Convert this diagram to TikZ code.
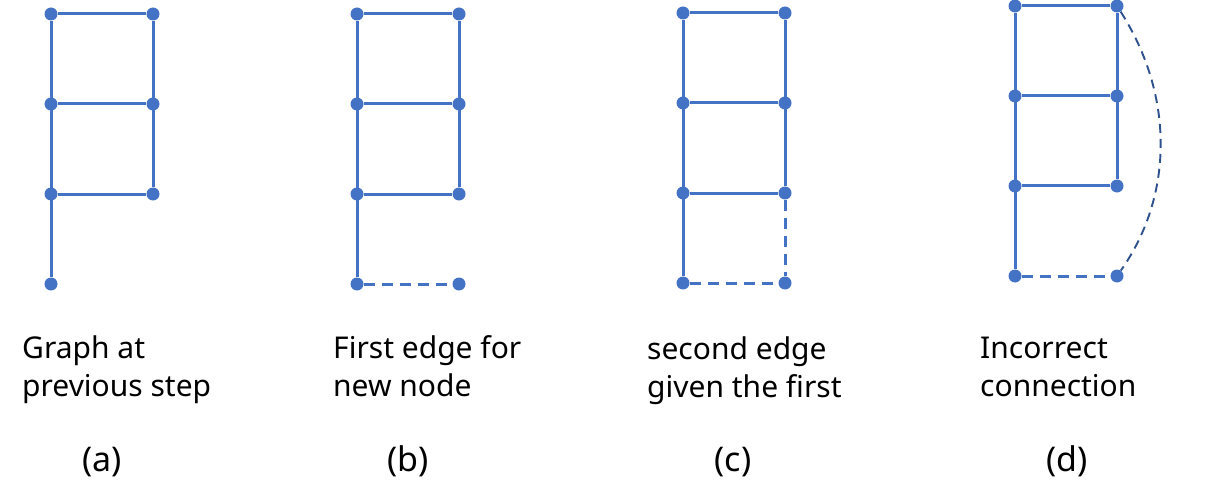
\documentclass[tikz,border=0pt]{standalone}
\usepackage{fontspec}
\setmainfont{Noto Sans}
\definecolor{gblue}{HTML}{4472C4}
\definecolor{dblue}{HTML}{2F528F}
\tikzset{%
    dot/.style={circle, fill=gblue, inner sep=0pt, minimum size=13pt},
    edg/.style={gblue, line width=3pt},
    dedg/.style={gblue, line width=3pt, dash pattern=on 11pt off 7pt},
    wrng/.style={dblue, line width=1.9pt, dash pattern=on 9pt off 6pt},
    txt/.style={anchor=north west, inner sep=0pt, align=left, font=\fontsize{30}{38}\selectfont},
    sub/.style={anchor=base, inner sep=0pt, font=\fontsize{34}{40}\selectfont},
}

\begin{document}
\begin{tikzpicture}[x=1pt, y=-1pt]
    \useasboundingbox (0,0) rectangle (1232,500);
    % ladder of the previous step, one per panel
    \foreach \p/\x/\y in {a/51/14, b/357/14, c/683/13, d/1015/6}{
        \foreach \i in {0,1,2}{
            \node[dot] (\p l\i) at (\x,\y+90*\i) {};
            \node[dot] (\p r\i) at (\x+102,\y+90*\i) {};
        }
        \node[dot] (\p l3) at (\x,\y+270) {};
        \draw[edg] (\p l0) -- (\p l3) (\p r0) -- (\p r2);
        \foreach \i in {0,1,2} \draw[edg] (\p l\i) -- (\p r\i);
    }
    \node[dot] (br3) at (459,284) {};
    \node[dot] (cr3) at (785,283) {};
    \node[dot] (dr3) at (1117,276) {};
    \draw[dedg] (bl3) -- (br3);
    \draw[dedg] (cl3) -- (cr3) (cr2) -- (cr3);
    \draw[dedg] (dl3) -- (dr3);
    \draw[wrng] (dr0) .. controls (1174,95) and (1174,195) .. (dr3);

    \node[txt] (ta) at (22,335) {Graph at\\previous step};
    \node[txt] (tb) at (333,335) {First edge for\\new node};
    \node[txt] (tc) at (647,336) {second edge\\given the first};
    \node[txt] (td) at (980,337) {Incorrect\\connection};
    \node[sub] (sa) at (102,471) {(a)};
    \node[sub] (sb) at (408,471) {(b)};
    \node[sub] (sc) at (733,471) {(c)};
    \node[sub] (sd) at (1067,471) {(d)};
\end{tikzpicture}
\end{document}
